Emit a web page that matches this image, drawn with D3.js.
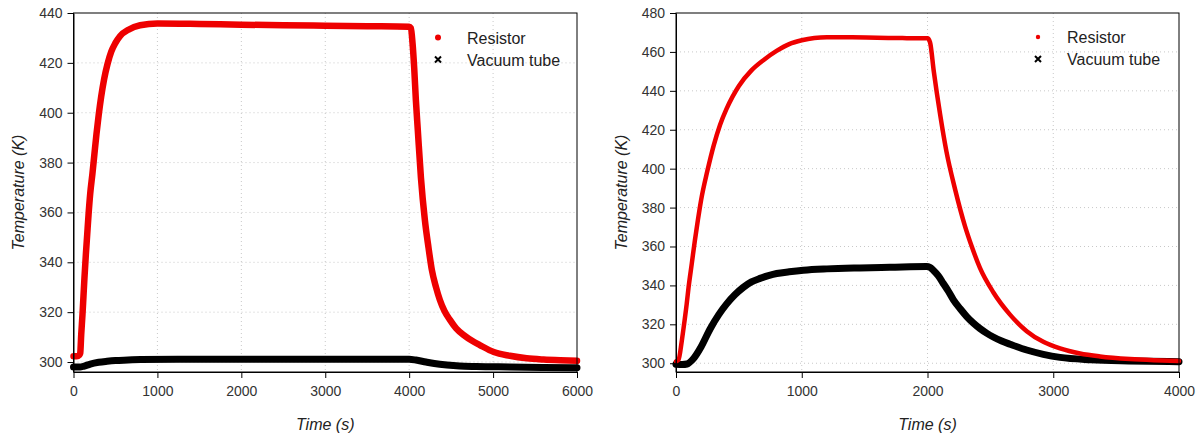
<!DOCTYPE html>
<html>
<head>
<meta charset="utf-8">
<script src="https://cdn.jsdelivr.net/npm/d3@7"></script>
<style>
  body { margin: 0; background: #fff; }
  text { font-family: "Liberation Sans", Arial, sans-serif; }
</style>
</head>
<body>
<svg id="chart" width="1200" height="436"></svg>
<script>
// ---- left panel: 0-6000 s run ----
var leftResT = [0, 40, 70, 80, 92, 107, 119, 131, 147, 163, 179, 199, 226, 250, 274, 300, 330, 365, 405, 450, 500, 556, 655, 794, 1000, 1500, 2000, 2500, 3000, 3500, 4000,
  4020, 4040, 4060, 4080, 4103, 4140, 4187, 4230, 4270, 4320, 4365, 4420, 4484, 4560, 4663, 4750, 4842, 5008, 5200, 5400, 5600, 5800, 6000];
var leftRes = [302.3, 302.3, 302.8, 303.5, 311, 319, 326.5, 334, 343, 351, 359, 367.5, 375.7, 383.7, 391.5, 399, 406.5, 413.5, 419.5, 424.5, 428, 430.8, 433.3, 435.1, 435.8, 435.6, 435.3, 435.1, 434.9, 434.7, 434.5,
  434, 428, 418, 405, 393, 374, 357, 346, 337, 330, 325, 320.5, 317, 313.5, 310.5, 308.5, 306.8, 304, 302.5, 301.5, 301, 300.7, 300.5];

var leftTubeT = [0, 80, 120, 200, 300, 400, 500, 650, 800, 1500, 2500, 3500, 4000, 4080, 4200, 4300, 4450, 4600, 4800, 5200, 5600, 6000];
var leftTube = [298, 298, 298.3, 299.2, 299.9, 300.3, 300.6, 300.8, 301, 301.1, 301.1, 301.1, 301.1, 300.8, 300, 299.4, 298.8, 298.4, 298.2, 298, 297.8, 297.7];

var leftXTicks = [0, 1000, 2000, 3000, 4000, 5000, 6000];
var leftYTicks = [300, 320, 340, 360, 380, 400, 420, 440];

// ---- right panel: 0-4000 s run ----
var rightResT = [0, 20, 45, 60, 85, 100, 125, 150, 175, 200, 250, 300, 350, 400, 450, 500, 600, 700, 800, 900, 1000, 1100, 1200, 1400, 1600, 1800, 1950, 2000,
  2020, 2050, 2100, 2150, 2219, 2298, 2352, 2417, 2523, 2656, 2789, 2921, 3054, 3213, 3372, 3610, 3800, 4000];
var rightRes = [301, 301.8, 311, 318, 330.5, 339, 351, 363, 374, 384, 399, 412, 422.5, 430.5, 437, 442.5, 450.5, 456, 460.5, 464, 466, 467.2, 467.6, 467.5, 467.3, 467.1, 467, 467,
  465, 450, 428, 409, 389.5, 370.5, 360, 349, 336.5, 325, 316.5, 311, 307.6, 305, 303.5, 302.2, 301.6, 301.2];

var rightTubeT = [0, 50, 88, 138, 200, 270, 340, 403, 470, 535, 600, 668, 735, 801, 900, 1013, 1200, 1463, 1700, 1993, 2020, 2046, 2085, 2126, 2166, 2206, 2260, 2312, 2365, 2418, 2470, 2523, 2590, 2656, 2789, 2921, 3054, 3300, 3600, 4000];
var rightTube = [299.5, 299.3, 299.6, 302.3, 308.5, 317.5, 325, 330.5, 335.3, 339, 341.8, 343.6, 345, 346.1, 347, 347.8, 348.5, 349, 349.3, 349.7, 349.3, 347.8, 345, 341, 337, 332.6, 328, 324, 320.6, 317.8, 315.5, 313.5, 311.4, 309.8, 306.8, 304.6, 303, 301.8, 301.2, 300.8];

var rightXTicks = [0, 1000, 2000, 3000, 4000];
var rightYTicks = [300, 320, 340, 360, 380, 400, 420, 440, 460, 480];

var seriesNames = ["Resistor", "Vacuum tube"];

var svg = d3.select("#chart");
svg.append("rect").attr("width", 1200).attr("height", 436).attr("fill", "#fff");

function zip(ts, vs) {
	return ts.map(function(t, i) { return {t: t, v: vs[i]}; });
}

function drawPanel(opt) {
	var x = d3.scaleLinear().domain(opt.xDomain).range([opt.left, opt.right]);
	var y = d3.scaleLinear().domain(opt.yDomain).range([opt.bottom, opt.top]);
	var g = svg.append("g");

	// dotted grid
	g.selectAll(".vgrid").data(opt.xTicks.slice(1, -1)).enter().append("line")
		.attr("x1", function(d) { return x(d); }).attr("x2", function(d) { return x(d); })
		.attr("y1", opt.top).attr("y2", opt.bottom)
		.attr("stroke", "#c8c8c8").attr("stroke-dasharray", "1,3");
	g.selectAll(".hgrid").data(opt.yTicks.slice(0, -1)).enter().append("line")
		.attr("x1", opt.left).attr("x2", opt.right)
		.attr("y1", function(d) { return y(d); }).attr("y2", function(d) { return y(d); })
		.attr("stroke", "#c8c8c8").attr("stroke-dasharray", "1,3");

	// data: dense markers drawn as a thick band
	var line = d3.line().x(function(d) { return x(d.t); }).y(function(d) { return y(d.v); }).curve(d3.curveMonotoneX);
	g.append("path").datum(zip(opt.tubeT, opt.tube))
		.attr("d", line).attr("fill", "none").attr("stroke", "#000")
		.attr("stroke-width", opt.tubeW).attr("stroke-linejoin", "round").attr("stroke-linecap", "round");
	g.append("path").datum(zip(opt.resT, opt.res))
		.attr("d", line).attr("fill", "none").attr("stroke", "#ee0000")
		.attr("stroke-width", opt.resW).attr("stroke-linejoin", "round").attr("stroke-linecap", "round");

	// frame
	g.append("rect").attr("x", opt.left).attr("y", opt.top)
		.attr("width", opt.right - opt.left).attr("height", opt.bottom - opt.top)
		.attr("fill", "none").attr("stroke", "#000").attr("stroke-width", 1);

	// axes
	var xAxis = d3.axisBottom(x).tickValues(opt.xTicks).tickSize(6).tickSizeOuter(0).tickPadding(8).tickFormat(d3.format("d"));
	var yAxis = d3.axisLeft(y).tickValues(opt.yTicks).tickSize(6).tickSizeOuter(0).tickPadding(5).tickFormat(d3.format("d"));
	var gx = g.append("g").attr("transform", "translate(0," + opt.bottom + ")").call(xAxis);
	var gy = g.append("g").attr("transform", "translate(" + opt.left + ",0)").call(yAxis);
	[gx, gy].forEach(function(a) {
		a.select(".domain").attr("stroke", "#000");
		a.selectAll(".tick line").attr("stroke", "#000");
		a.selectAll(".tick text").attr("font-size", 14).attr("fill", "#333")
			.attr("font-family", "Liberation Sans, Arial, sans-serif");
	});

	// axis titles
	g.append("text").attr("x", (opt.left + opt.right) / 2).attr("y", 430)
		.attr("text-anchor", "middle").attr("font-size", 16).attr("font-style", "italic").attr("fill", "#222")
		.text("Time (s)");
	g.append("text").attr("transform", "translate(" + opt.ytitleX + "," + (opt.top + opt.bottom) / 2 + ") rotate(-90)")
		.attr("text-anchor", "middle").attr("font-size", 16).attr("font-style", "italic").attr("fill", "#222")
		.text("Temperature (K)");

	// legend
	var lg = g.append("g").attr("transform", "translate(" + opt.legX + "," + opt.legY + ")");
	lg.append("circle").attr("cx", 0).attr("cy", 0).attr("r", opt.legR).attr("fill", "#ee0000");
	lg.append("path").attr("d", "M-3,19 L3,25 M-3,25 L3,19").attr("stroke", "#000").attr("stroke-width", 2);
	lg.selectAll("text").data(seriesNames).enter().append("text")
		.attr("x", 29).attr("y", function(d, i) { return 6 + i * 22; })
		.attr("font-size", 16).attr("fill", "#222").text(function(d) { return d; });
}

drawPanel({
	xDomain: [0, 6000], yDomain: [296, 440],
	left: 73.5, right: 577, top: 13, bottom: 372,
	xTicks: leftXTicks, yTicks: leftYTicks,
	resT: leftResT, res: leftRes, tubeT: leftTubeT, tube: leftTube,
	resW: 6.5, tubeW: 7,
	ytitleX: 24, legX: 438, legY: 37.5, legR: 3
});

drawPanel({
	xDomain: [0, 4000], yDomain: [295.5, 480],
	left: 676, right: 1179, top: 13, bottom: 372,
	xTicks: rightXTicks, yTicks: rightYTicks,
	resT: rightResT, res: rightRes, tubeT: rightTubeT, tube: rightTube,
	resW: 4.5, tubeW: 7,
	ytitleX: 627, legX: 1038, legY: 37, legR: 2.2
});
</script>
</body>
</html>
